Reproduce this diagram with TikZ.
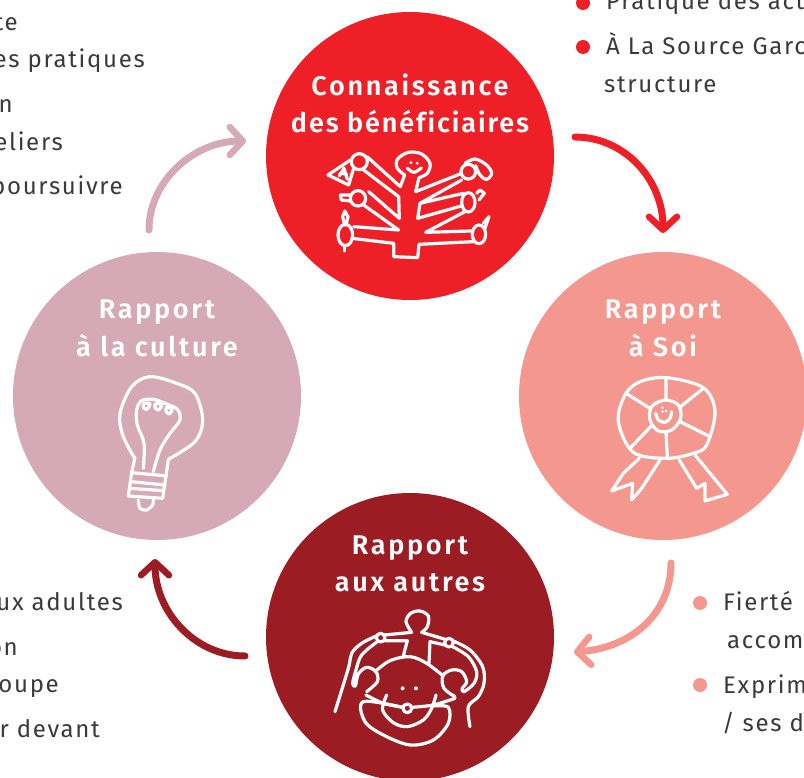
\documentclass[tikz,border=0pt]{standalone}
\usepackage{fontspec}
\usetikzlibrary{arrows.meta}
\newfontfamily\bodyfont[LetterSpace=7,RawFeature={-liga}]{Fira Sans}
\newfontfamily\titlefont[LetterSpace=10,RawFeature={-liga},BoldFont={Fira Sans SemiBold}]{Fira Sans}
\newfontfamily\titlefontb[LetterSpace=7,RawFeature={-liga},BoldFont={Fira Sans SemiBold}]{Fira Sans}
\definecolor{cred}{HTML}{EF1F27}
\definecolor{csalmon}{HTML}{F4978E}
\definecolor{cdark}{HTML}{9B1C23}
\definecolor{cmauve}{HTML}{D5A9B5}
\definecolor{ctext}{HTML}{3A3A3C}
\tikzset{
  disc/.style={circle,minimum size=288pt,inner sep=0pt,outer sep=0pt,fill=#1},
  ctitle/.style={anchor=base,inner sep=0pt,text=white,font=\titlefont\bfseries\fontsize{27}{30}\selectfont},
  bodyw/.style={anchor=base west,inner sep=0pt,text=ctext,font=\bodyfont\fontsize{24}{27}\selectfont},
  bodye/.style={anchor=base east,inner sep=0pt,text=ctext,font=\bodyfont\fontsize{24}{27}\selectfont},
  dotmark/.style={circle,minimum size=14pt,inner sep=0pt,fill=#1},
  cyc/.style={line width=7pt,line cap=round,color=#1,-{Straight Barb[round,length=13pt,width=28pt,line width=6.5pt]}},
  ink/.style={draw=white,line width=3.2pt,line cap=round,line join=round,fill=none},
  sm/.style={ink,smooth,tension=0.55},
}
\begin{document}
\begin{tikzpicture}[x=1pt,y=-1pt]
\useasboundingbox (0,0) rectangle (804,778);
\clip (0,0) rectangle (804,778);
% discs
\node[disc=cred] (top) at (410,156) {};
\node[disc=csalmon] (right) at (663,396) {};
\node[disc=cdark] (bottom) at (410,637) {};
\node[disc=cmauve] (left) at (157,396) {};
% titles
\node[ctitle] (t1a) at (410,96) {Connaissance};
\node[ctitle] (t1b) at (410,133) {\titlefontb\bfseries des bénéficiaires};
\node[ctitle] (t2a) at (663,319) {Rapport};
\node[ctitle] (t2b) at (663,356) {à Soi};
\node[ctitle] (t3a) at (410,554) {Rapport};
\node[ctitle] (t3b) at (410,591) {aux autres};
\node[ctitle] (t4a) at (157,319) {Rapport};
\node[ctitle] (t4b) at (157,356) {à la culture};
% connectors
\coordinate (a1) at (575,137); \coordinate (b1) at (663,233);
\coordinate (a2) at (671,563); \coordinate (b2) at (574,652);
\coordinate (a3) at (245,656); \coordinate (b3) at (155,559);
\coordinate (a4) at (149,230); \coordinate (b4) at (246,141);
\draw[cyc=cred] (a1) .. controls (625,137) and (663,180) .. (b1);
\draw[cyc=csalmon] (a2) .. controls (671,615) and (630,648) .. (b2);
\draw[cyc=cdark] (a3) .. controls (195,656) and (155,612) .. (b3);
\draw[cyc=cmauve] (a4) .. controls (149,180) and (195,141) .. (b4);
% body text
\node[bodye] (l1) at (18,31) {te};
\node[bodye] (l2) at (145,68) {es pratiques};
\node[bodye] (l3) at (13,113) {n};
\node[bodye] (l4) at (63,151) {eliers};
\node[bodye] (l5) at (123,195) {poursuivre};
\node[bodye] (l6) at (123,610) {ux adultes};
\node[bodye] (l7) at (18,655) {on};
\node[bodye] (l8) at (59,692) {oupe};
\node[bodye] (l9) at (100,737) {r devant};
\node[dotmark=cred] (d1) at (583,3) {};
\node[dotmark=cred] (d2) at (583,47) {};
\node[dotmark=csalmon] (d3) at (700,603) {};
\node[dotmark=csalmon] (d4) at (700,685) {};
\node[bodyw] (r1) at (606,10) {Pratique des act};
\node[bodyw] (r2) at (606,55) {À La Source Garc};
\node[bodyw] (r3) at (604,93) {structure};
\node[bodyw] (r4) at (723,610) {Fierté};
\node[bodyw] (r5) at (727,648) {accom};
\node[bodyw] (r6) at (723,693) {Exprim};
\node[bodyw] (r7) at (722,731) {/ ses d};
% icon 1: many-armed figure
\begin{scope}[shift={(300,140)},x=0.3333pt,y=-0.3333pt]
\path[sm] plot coordinates {(314,105) (292,85) (292,58) (325,37) (365,42) (390,70) (382,100) (357,113)};
\draw[ink] (357,113) -- (347,155) -- (485,100);
\draw[ink] (485,120) -- (360,190) -- (353,235) -- (487,197);
\draw[ink] (360,190) -- (490,160);
\draw[ink] (495,215) -- (377,277) -- (515,273);
\draw[ink] (520,305) -- (357,313) -- (353,353) -- (281,350) -- (281,310) -- (156,295);
\draw[ink] (201,50) -- (301,140) -- (314,105);
\draw[ink] (191,90) -- (296,170) -- (298,235) -- (206,155);
\draw[ink] (191,195) -- (296,270) -- (161,260);
\draw[ink] (151,60) -- (84,105) -- (146,135) -- (160,88);
\draw[ink] (118,108) -- (132,85) -- (142,118) (120,100) -- (140,102);
\path[ink] (178,65) circle[radius=24];
\path[ink] (174,175) circle[radius=23];
\draw[ink] (151,165) -- (121,165) -- (124,180) -- (151,183);
\path[ink] (136,285) circle[x radius=22,y radius=32];
\draw[ink] (134,255) -- (128,230) -- (134,213) -- (144,230) -- (138,255);
\draw[ink] (134,317) -- (134,333);
\path[ink] (505,95) circle[radius=22];
\path[sm] plot coordinates {(495,70) (525,57) (560,75) (575,100) (560,118) (540,105) (527,77)};
\path[ink] (505,187) circle[x radius=20,y radius=29];
\draw[ink] (530,160) -- (540,150) -- (553,160) -- (537,180);
\path[ink] (537,283) circle[x radius=20,y radius=28];
\draw[ink] (550,250) -- (567,230) -- (555,265);
\path[sm] plot coordinates {(322,85) (342,97) (364,84)};
\fill[white] (333,68) circle[radius=5] (352,70) circle[radius=5];
\end{scope}
% icon 2: group of figures
\begin{scope}[shift={(320,600)},x=0.3333pt,y=-0.3333pt]
\path[sm] plot coordinates {(275,97) (258,65) (272,40) (300,33) (325,48) (322,80) (305,97)};
\draw[ink] (193,105) -- (275,97) (305,97) -- (376,118);
\draw[ink] (195,122) -- (262,122) -- (250,168) (375,135) -- (330,125) -- (327,190);
\path[ink] (182,113) circle[radius=13] (387,128) circle[radius=13] (262,325) circle[radius=13];
\path[sm] plot coordinates {(171,107) (125,130) (95,160) (85,205) (45,335)};
\path[sm] plot coordinates {(172,125) (125,165) (108,210) (98,250) (106,258) (115,222) (140,202) (168,215) (172,245) (140,275)};
\path[sm] plot coordinates {(398,122) (450,150) (488,200) (492,250) (475,290) (445,320) (450,380)};
\path[sm] plot coordinates {(398,140) (445,170) (470,215) (462,250) (432,275) (427,265) (440,245) (425,215) (395,210) (368,228) (372,265) (405,290)};
\path[sm] plot coordinates {(165,215) (210,182) (270,170) (320,190) (370,228)};
\fill[white] (248,265) circle[radius=6] (288,265) circle[radius=6];
\path[sm] plot coordinates {(138,285) (190,310) (250,322)};
\path[sm] plot coordinates {(275,322) (340,315) (405,295)};
\path[sm] plot coordinates {(200,285) (188,330) (220,368) (262,380) (310,360) (335,325) (348,285)};
\path[sm] plot coordinates {(248,322) (130,305) (135,365) (190,405) (270,435) (340,420) (385,370) (385,322) (340,318)};
\end{scope}
% icon 3: rosette
\begin{scope}[shift={(590,365)},x=0.3333pt,y=-0.3333pt]
\path[sm] plot[smooth cycle] coordinates {(150,50) (230,38) (340,68) (375,140) (350,240) (310,265) (230,280) (130,262) (85,170) (105,90)};
\path[sm] plot[smooth cycle] coordinates {(225,105) (265,120) (272,160) (245,195) (205,198) (180,165) (185,125)};
\draw[ink] (228,40) -- (228,105) (340,70) -- (268,128) (360,215) -- (270,170) (232,275) -- (228,200) (120,250) -- (185,182) (108,85) -- (180,130);
\path[sm] plot coordinates {(197,145) (205,165) (225,172) (240,160) (245,140)};
\fill[white] (218,128) circle[radius=4] (228,138) circle[radius=4] (218,140) circle[radius=4];
\draw[ink] (148,280) -- (100,325) -- (65,378) -- (128,355) -- (125,405) -- (155,370) -- (210,285);
\draw[ink] (268,285) -- (320,370) -- (345,355) -- (345,408) -- (412,388) -- (315,270);
\end{scope}
% icon 4: light bulb
\begin{scope}[shift={(100,370)},x=0.3333pt,y=-0.3333pt]
\path[sm] plot coordinates {(102,262) (68,195) (60,130) (95,50) (150,20) (230,40) (285,70) (308,150) (285,215) (205,268)};
\draw[ink] (105,262) -- (95,308) -- (85,378) -- (188,385) -- (205,270);
\draw[ink] (95,308) -- (200,318) (92,335) -- (195,345) (88,355) -- (190,362);
\path[sm] plot coordinates {(115,390) (120,415) (140,420) (158,405) (160,388)};
\path[sm] plot coordinates {(130,295) (132,220) (112,165) (110,120) (125,92) (160,88) (195,100) (232,118) (240,150) (210,190) (180,240) (160,305)};
\path[sm] plot[smooth cycle] coordinates {(133,100) (150,102) (140,118) (130,112)};
\path[sm] plot[smooth cycle] coordinates {(168,100) (185,106) (175,120) (165,112)};
\path[sm] plot[smooth cycle] coordinates {(200,112) (216,118) (208,132) (198,124)};
\end{scope}
\end{tikzpicture}
\end{document}
